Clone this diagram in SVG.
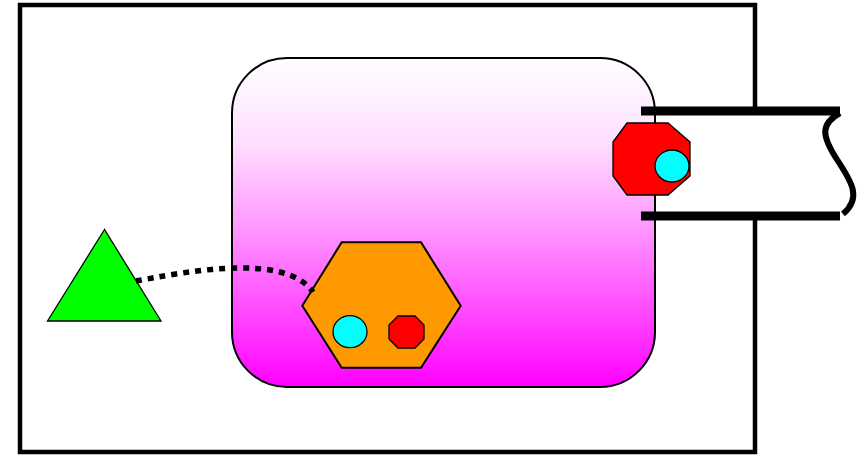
<svg xmlns="http://www.w3.org/2000/svg" width="865" height="455" viewBox="0 0 865 455">
<defs>
<linearGradient id="g" x1="0" y1="0" x2="0" y2="1">
<stop offset="0" stop-color="#ffffff"/>
<stop offset="0.25" stop-color="#ffe0ff"/>
<stop offset="0.5" stop-color="#ff9cff"/>
<stop offset="0.75" stop-color="#ff50ff"/>
<stop offset="1" stop-color="#ff00ff"/>
</linearGradient>
<style>
.thin{stroke:#000;stroke-width:1.3}
.red{fill:#ff0000}
.cyan{fill:#00ffff}
</style>
</defs>
<rect width="865" height="455" fill="#fff"/>
<g id="frame">
<rect x="20" y="5" width="735" height="447" fill="none" stroke="#000" stroke-width="4.5"/>
</g>
<g id="compartment">
<rect x="232" y="58" width="423" height="329" rx="55" ry="55" fill="url(#g)" stroke="#000" stroke-width="2"/>
</g>
<g id="pipe">
<rect x="657" y="112" width="184" height="103" fill="#fff"/>
<line x1="641" y1="111" x2="840" y2="111" stroke="#000" stroke-width="9"/>
<line x1="641" y1="216" x2="840" y2="216" stroke="#000" stroke-width="9"/>
<path d="M840,113 C820,124 822,136 836,158 C852,182 862,198 843,214" fill="none" stroke="#000" stroke-width="6"/>
</g>
<g id="port">
<polygon class="red thin" points="627,123 668,123 690,142 690,176 668,195 627,195 613,176 613,142"/>
<ellipse class="cyan thin" cx="672" cy="166" rx="17" ry="16"/>
</g>
<g id="triangle">
<polygon points="104.5,229.5 47.5,321 161,321" fill="#00ff00" class="thin"/>
</g>
<g id="hexagon">
<polygon points="341.7,242.3 421,242.3 460.7,305.7 421,367.7 341.7,367.7 302.3,305.7" fill="#ff9900" stroke="#000" stroke-width="2"/>
<ellipse class="cyan thin" cx="350" cy="331.7" rx="17" ry="16"/>
<polygon class="red thin" points="398,316 415,316 424,325 424,339 415,348 398,348 389,339 389,325"/>
</g>
<g id="connectors">
<path d="M136,281 C185,272 285,252 313,292" fill="none" stroke="#000" stroke-width="5.5" stroke-dasharray="6,6"/>
</g>
</svg>
